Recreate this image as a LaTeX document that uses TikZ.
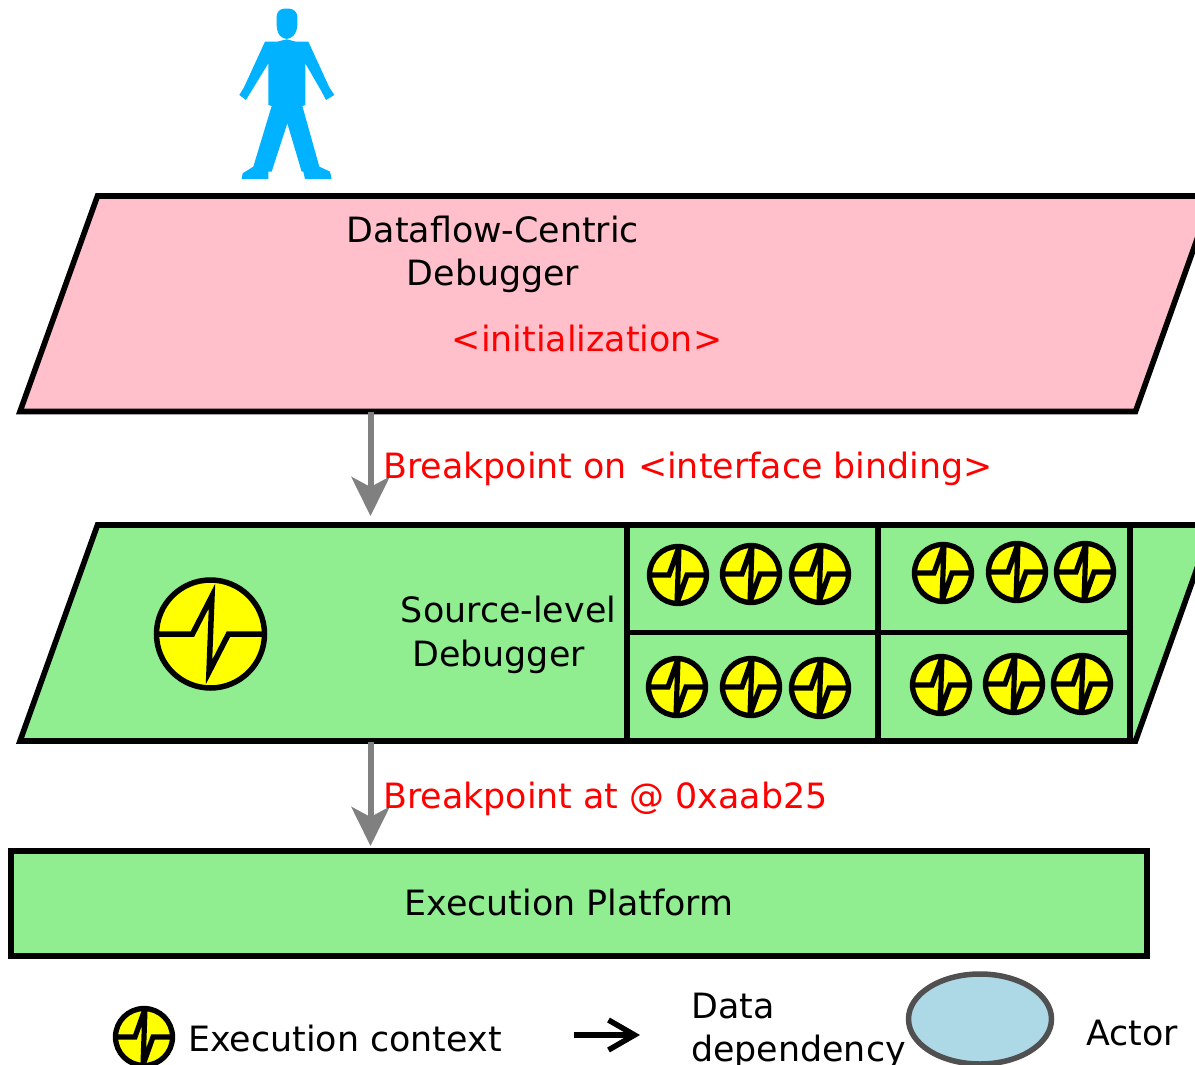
\documentclass[tikz,border=0pt]{standalone}
\usepackage{fontspec}
\setmainfont{DejaVu Sans}
\usetikzlibrary{arrows.meta}
\definecolor{pinkfill}{RGB}{255,192,203}
\definecolor{greenfill}{RGB}{144,238,144}
\definecolor{actorfill}{RGB}{173,216,230}
\definecolor{personblue}{RGB}{0,178,255}
\definecolor{arrowgray}{RGB}{128,128,128}
\definecolor{iconyellow}{RGB}{255,255,0}
\definecolor{actorline}{RGB}{80,80,80}
\tikzset{
  box/.style={draw=black,line width=5.6pt,miter limit=10},
  lbl/.style={inner sep=0pt,font=\fontsize{34.85}{43}\selectfont,align=center},
  redlbl/.style={lbl,text=red},
  flow/.style={draw=arrowgray,line width=6pt,-{Stealth[length=39pt,width=38pt,inset=10pt,arrowgray]}},
  pics/bigicon/.style={code={
    \fill[iconyellow] (0,0) circle[radius=54];
    \begin{scope}
      \clip (0,0) circle[radius=54];
      \draw[black,line width=5.5pt,miter limit=20,line join=miter] (-54,0)--(-18,0)--(1.5,-38)--(-1.5,38)--(18,0)--(54,0);
    \end{scope}
    \draw[black,line width=5.5pt] (0,0) circle[radius=54];
  }},
  pics/smallicon/.style={code={
    \fill[iconyellow] (0,0) circle[radius=28.5];
    \begin{scope}
      \clip (0,0) circle[radius=28.5];
      \draw[black,line width=5.2pt,miter limit=20,line join=miter] (-28.5,0)--(-9,0)--(1,-28)--(-1,28)--(9,0)--(28.5,0);
    \end{scope}
    \draw[black,line width=5.3pt] (0,0) circle[radius=28.5];
  }}
}
\begin{document}
\begin{tikzpicture}[x=1pt,y=-1pt]
\useasboundingbox (0,0) rectangle (1195,1065);
\clip (0,0) rectangle (1195,1065);
% person
\begin{scope}[shift={(220,0)},x=0.3333pt,y=-0.3333pt]
\fill[personblue,rounded corners=3pt] (170,40)--(183,26)--(217,26)--(232,40)--(232,85)--(222,108)--(200,119)--(178,108)--(170,85)--cycle;
\fill[personblue]
  (135,125)--(172,125)--(200,118)--(228,125)--(265,125)--(328,262)--(343,285)--(318,300)--(305,275)--(256,190)--(256,315)--(247,318)--(298,500)--(330,515)--(335,537)--(255,537)--(250,515)--(245,515)--(202,370)--(155,515)--(145,515)--(145,537)--(65,537)--(68,520)--(100,500)--(155,318)--(145,315)--(145,190)--(90,280)--(78,300)--(58,285)--(72,262)--cycle;
\end{scope}
% boxes
\coordinate (dfA) at (370.5,412);
\draw[box,fill=pinkfill] (97.5,196)--(1212.5,196)--(1135.5,411.5)--(20,411.5)--cycle;
\node[lbl] (dfname) at (493,254.5) {Dataflow-Centric\\Debugger};
\node[redlbl] (init) at (587,338.5) {<initialization>};
\coordinate (srcIn) at (370.5,516);
\coordinate (srcOut) at (370.5,742);
\draw[box,fill=greenfill] (97.5,525)--(1212.5,525)--(1135.5,741)--(20,741)--cycle;
\draw[box] (627,525)--(627,741);
\draw[box] (878,525)--(878,741);
\draw[box] (1130,525)--(1130,741);
\draw[box] (627,632.5)--(1130,632.5);
\pic at (210.5,634) {bigicon};
\foreach \x/\y in {678/575,751/574,820/574,943/573,1017/572,1085/572,677/687,751/687,820/688,941/685,1014/684,1082/684}
  \pic at (\x,\y) {smallicon};
\node[lbl] (src) at (508.5,635) {Source-level\\[1pt]\hspace*{-20pt}Debugger};
\node[box,fill=greenfill,minimum width=1136pt,minimum height=105pt,inner sep=0pt] (exec) at (579,903.5) {};
\node[lbl] (execl) at (569,902.5) {Execution Platform};
\coordinate (exIn) at (370.5,846);
\draw[flow] (dfA) -- (srcIn);
\draw[flow] (srcOut) -- (exIn);
\node[redlbl,anchor=west] (bp1) at (383,469) {Breakpoint on <interface binding>};
\node[redlbl,anchor=west] (bp2) at (383,798.5) {Breakpoint at @ 0xaab25};
% legend
\pic at (144,1037) {smallicon};
\node[lbl,anchor=west] (leg1) at (188,1038.5) {Execution context};
\coordinate (la) at (574,1035);
\coordinate (lb) at (640,1035);
\draw[black,line width=5.5pt,-{Straight Barb[length=26pt,width=30pt,line width=5.5pt]}] (la) -- (lb);
\node[lbl,align=left,anchor=north west] (leg2) at (691,992.5) {Data\\dependency};
\draw[draw=actorline,fill=actorfill,line width=5.5pt] (980,1019) ellipse[x radius=71.5,y radius=45];
\node[lbl,anchor=west] (leg3) at (1086,1033) {Actor};
\end{tikzpicture}
\end{document}
